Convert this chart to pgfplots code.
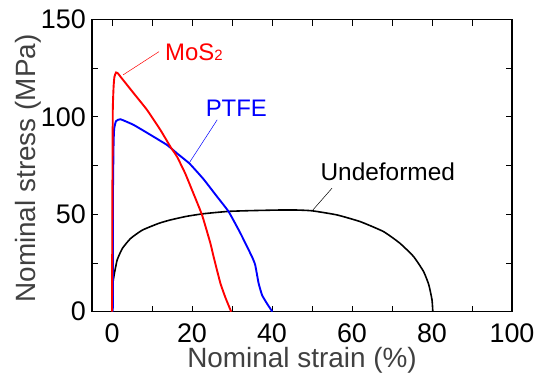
\documentclass[border=0pt]{standalone}
\usepackage{pgfplots}
\pgfplotsset{compat=1.18}
\usepackage{fontspec}
\setmainfont{Liberation Sans}
\definecolor{labgray}{RGB}{64,64,64}
\begin{document}
\begin{tikzpicture}
\begin{axis}[
  at={(0,0)}, anchor=south west,
  scale only axis, width=420bp, height=292.2bp,
  xmin=-5, xmax=100, ymin=0, ymax=150,
  xtick={0,20,...,100}, minor xtick={10,30,...,90},
  ytick={0,50,100,150}, minor ytick={25,75,125},
  tick align=inside, major tick length=6bp, minor tick length=6bp,
  every tick/.style={black, line width=1pt},
  axis line style={line width=1.2pt},
  /pgf/number format/assume math mode=true,
  ticklabel style={font=\fontsize{27}{30}\selectfont, inner sep=0pt},
  xticklabel style={anchor=base, yshift=-31bp},
  yticklabel style={anchor=east, xshift=-6bp},
  xlabel={Nominal strain (\%)},
  ylabel={Nominal stress (MPa)},
  label style={font=\fontsize{28}{30}\selectfont, text=labgray, inner sep=0pt},
  xlabel style={at={(axis description cs:0.5,-0.1893)}, anchor=base},
  ylabel style={at={(axis description cs:-0.1357,0.49)}, anchor=base},
]
% Undeformed
\addplot[black, line width=1.6pt, smooth, tension=0.3] coordinates {
(0,0) (0.05,8) (0.12,13) (0.5,18.5) (1.3,26.6) (2.6,32.5) (4.65,37.6) (7.6,41.9) (11.75,45.4) (14.6,47.1) (18.5,48.9) (22.9,50.3) (29.15,51.5) (35,51.9) (42,52.2) (46,52.2) (50,51.8) (56.2,49.7) (62.1,46.2) (67.9,41.1) (72,35.1) (75.4,28.3) (77.9,20.6) (79.2,13.8) (80,6.1) (80.2,0)};
% PTFE
\addplot[blue, line width=1.9pt, smooth, tension=0.25] coordinates {
(0.2,0) (0.22,30) (0.25,62) (0.4,86.6) (0.55,94) (1.0,97.8) (2.1,98.8) (5.4,95.9) (9.6,90.8) (13.75,85.6) (16.25,81.3) (19.4,76) (22.9,68) (26.25,59.1) (29.15,51.4) (32.1,40.3) (35,28.2) (35.8,24) (36.65,14.6) (37.5,8.6) (38.5,5) (39.6,1.5) (40.1,0)};
% MoS2
\addplot[red, line width=1.9pt, smooth, tension=0.25] coordinates {
(0,0) (0.05,30) (0.1,62) (0.2,103.6) (0.4,115.6) (0.6,120.5) (1.0,122.8) (1.5,122.3) (2.1,120.7) (5.4,112.2) (8.75,103.6) (12.1,93.3) (14.6,84.7) (16.25,79.6) (18.3,71) (20,62.5) (22.5,49.7) (24.6,35.1) (25.4,28.2) (27.1,14.6) (28.4,7) (29.8,0)};
% leader lines
\addplot[red, line width=0.5pt] coordinates {(2.8,121.6) (11.75,133.5)};
\addplot[blue, line width=0.5pt] coordinates {(19.25,76.2) (26.3,98.5)};
\addplot[black, line width=0.5pt] coordinates {(50,51.7) (55,63.4)};
\node[anchor=base west, inner sep=0pt, text=red, font=\fontsize{24}{26}\selectfont] at (axis cs:13.25,128.9) {MoS{\fontsize{15}{16}\selectfont 2}};
\node[anchor=base west, inner sep=0pt, text=blue, font=\fontsize{24}{26}\selectfont] at (axis cs:23.4,100.2) {PTFE};
\node[anchor=base west, inner sep=0pt, text=black, font=\fontsize{24.5}{26}\selectfont] at (axis cs:52.1,67.6) {Undeformed};
\end{axis}
\pgfresetboundingbox
\useasboundingbox (-92bp,-61.3bp) rectangle (453bp,311.7bp);
\end{tikzpicture}
\end{document}
